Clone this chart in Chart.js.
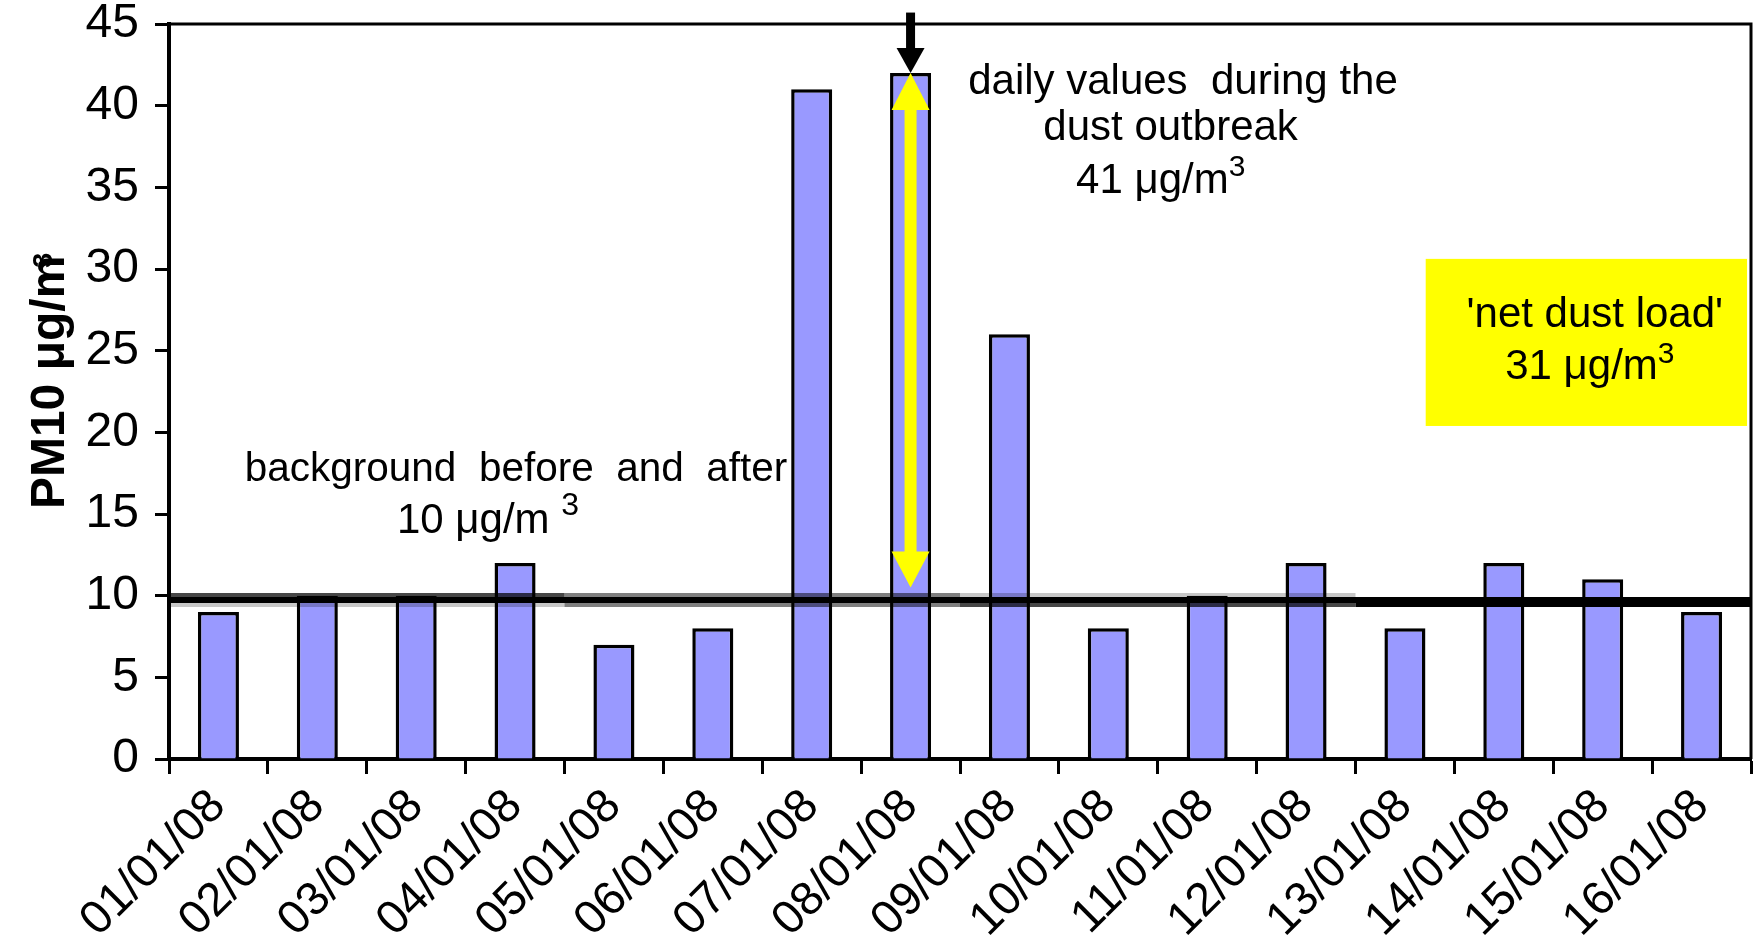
<!DOCTYPE html>
<html>
<head>
<meta charset="utf-8">
<script src="https://cdn.jsdelivr.net/npm/chart.js@4.4.1/dist/chart.umd.min.js"></script>
<style>
  html, body { margin:0; padding:0; background:#fff; }
  #wrap { width:1755px; height:943px; position:relative; }
</style>
</head>
<body>
<div id="wrap"><canvas id="pm10Chart"></canvas></div>
<script>
const days = ['01/01/08','02/01/08','03/01/08','04/01/08','05/01/08','06/01/08','07/01/08','08/01/08',
              '09/01/08','10/01/08','11/01/08','12/01/08','13/01/08','14/01/08','15/01/08','16/01/08'];
const pm10 = [9, 10, 10, 12, 7, 8, 41, 42, 26, 8, 10, 12, 8, 12, 11, 9];
const yTickValues = [0, 5, 10, 15, 20, 25, 30, 35, 40, 45];

// annotation anchors, in category index / µg/m3
const backgroundLevel = 9.75;
const outbreakDay = 7;
const outbreakPeak = 42;
const netDustFloor = 10.5;
const arrowStart = 45.7;
const netBox = { from: 12.21, to: 15.46, low: 20.39, high: 30.62 };

const notes = [
  { text: 'daily values  during the', at: [9.755, 40.7] },
  { text: 'dust outbreak',            at: [9.63, 37.9] },
  { text: '41 μg/m', sup: '3',        at: [9.53, 34.66] },
  { text: 'background  before  and  after', at: [3.01, 17.02], size: 40.5 },
  { text: '10 μg/m ', sup: '3',       at: [2.726, 13.84], supSize: 32, rise: 18 },
  { text: "'net dust load'",          at: [13.92, 26.45] },
  { text: '31 μg/m', sup: '3',        at: [13.87, 23.27], rise: 16 },
];

const FONT = "'Liberation Sans', Arial, sans-serif";

function band(ctx, x0, x1, y0, y1, color) {
  ctx.fillStyle = color;
  ctx.fillRect(x0, y0, x1 - x0, y1 - y0);
}

function arrowHead(ctx, cx, baseY, tipY, w) {
  ctx.beginPath();
  ctx.moveTo(cx - w / 2, baseY);
  ctx.lineTo(cx + w / 2, baseY);
  ctx.lineTo(cx, tipY);
  ctx.closePath();
  ctx.fill();
}

function textWithSup(ctx, n, cx, by) {
  const size = n.size || 42, supSize = n.supSize || 30, rise = n.rise || 17;
  ctx.font = `${size}px ${FONT}`;
  const w1 = ctx.measureText(n.text).width;
  ctx.font = `${supSize}px ${FONT}`;
  const w2 = n.sup ? ctx.measureText(n.sup).width : 0;
  const x0 = cx - (w1 + w2) / 2;
  ctx.textAlign = 'left';
  ctx.textBaseline = 'alphabetic';
  ctx.fillStyle = '#000';
  ctx.font = `${size}px ${FONT}`;
  ctx.fillText(n.text, x0, by);
  if (n.sup) {
    ctx.font = `${supSize}px ${FONT}`;
    ctx.fillText(n.sup, x0 + w1, by - rise);
  }
}

const overlay = {
  id: 'overlay',
  afterDatasetsDraw(chart) {
    const { ctx, chartArea: a, scales: { x, y } } = chart;
    const edge = i => x.getPixelForValue(i - 0.5);
    ctx.save();

    // background level line with its grey shadow
    const yl = Math.round(y.getPixelForValue(backgroundLevel));
    [
      [a.left, edge(4), 'rgba(0,0,0,.72)', 'rgba(0,0,0,.22)'],
      [edge(4), edge(8), 'rgba(0,0,0,.5)', 'rgba(0,0,0,.5)'],
      [edge(8), edge(12), 'rgba(0,0,0,.22)', 'rgba(0,0,0,.72)'],
    ].forEach(([x0, x1, up, dn]) => {
      band(ctx, x0, x1, yl - 7, yl - 3, up);
      band(ctx, x0, x1, yl + 3, yl + 7, dn);
    });
    band(ctx, a.left, a.right, yl - 3, yl + 3, '#000');
    band(ctx, edge(12), a.right, yl - 3, yl + 7, '#000');

    // frame top / right
    ctx.strokeStyle = '#000';
    ctx.lineWidth = 3;
    ctx.beginPath();
    ctx.moveTo(a.left, a.top); ctx.lineTo(a.right, a.top); ctx.lineTo(a.right, a.bottom);
    ctx.stroke();

    // yellow double arrow inside the outbreak bar
    const cx = x.getPixelForValue(outbreakDay);
    const yTop = y.getPixelForValue(outbreakPeak);
    const yBot = y.getPixelForValue(netDustFloor);
    ctx.fillStyle = '#ffff00';
    band(ctx, cx - 6, cx + 6, yTop + 30, yBot - 30, '#ffff00');
    arrowHead(ctx, cx, yTop + 37, yTop, 38);
    arrowHead(ctx, cx, yBot - 36, yBot, 38);

    // black arrow from above
    const yStart = y.getPixelForValue(arrowStart);
    band(ctx, cx - 4.5, cx + 4.5, yStart, yTop - 22, '#000');
    ctx.fillStyle = '#000';
    arrowHead(ctx, cx, yTop - 25, yTop, 28);

    // net dust load box
    const bx0 = x.getPixelForValue(netBox.from), bx1 = x.getPixelForValue(netBox.to);
    const by0 = y.getPixelForValue(netBox.high), by1 = y.getPixelForValue(netBox.low);
    band(ctx, bx0, bx1, by0, by1, '#ffff00');

    notes.forEach(n => textWithSup(ctx, n, x.getPixelForValue(n.at[0]), y.getPixelForValue(n.at[1])));
    ctx.restore();
  },
  afterDraw(chart) {
    const { ctx } = chart;
    const yAxis = chart.scales.y;
    ctx.save();
    ctx.translate(64, yAxis.getPixelForValue(15.3));
    ctx.rotate(-Math.PI / 2);
    ctx.fillStyle = '#000';
    ctx.textAlign = 'left';
    ctx.textBaseline = 'alphabetic';
    ctx.font = `bold 48px ${FONT}`;
    const t = 'PM10 μg/m';
    const w = ctx.measureText(t).width;
    ctx.fillText(t, 0, 0);
    ctx.font = `bold 27px ${FONT}`;
    ctx.fillText('3', w - 12, -12);
    ctx.restore();
  }
};

new Chart(document.getElementById('pm10Chart'), {
  type: 'bar',
  data: {
    labels: days,
    datasets: [{
      data: pm10,
      backgroundColor: '#9999ff',
      borderColor: '#000',
      borderWidth: 3.5,
      barPercentage: 0.415,
      categoryPercentage: 1,
    }]
  },
  options: {
    responsive: true,
    maintainAspectRatio: false,
    animation: false,
    layout: { padding: { top: 24, right: 4, left: 0, bottom: 0 } },
    plugins: { legend: { display: false }, tooltip: { enabled: false } },
    scales: {
      x: {
        afterFit: s => { s.height = 184; s.paddingLeft = 0; s.paddingRight = 0; },
        grid: { offset: true, drawOnChartArea: false, tickLength: 15, tickWidth: 3, tickColor: '#000' },
        border: { display: true, color: '#000', width: 4 },
        ticks: { color: '#000', font: { family: FONT, size: 47 }, autoSkip: false,
                 minRotation: 45, maxRotation: 45, padding: 5 },
      },
      y: {
        min: 0, max: 45,
        afterFit: s => { s.width = 169; s.paddingTop = 0; s.paddingBottom = 0; },
        afterBuildTicks: s => { s.ticks = yTickValues.map(v => ({ value: v })); },
        grid: { drawOnChartArea: false, tickLength: 14, tickWidth: 3, tickColor: '#000' },
        border: { display: true, color: '#000', width: 4 },
        ticks: { color: '#000', font: { family: FONT, size: 48 }, padding: 16 },
      }
    }
  },
  plugins: [overlay]
});
</script>
</body>
</html>
